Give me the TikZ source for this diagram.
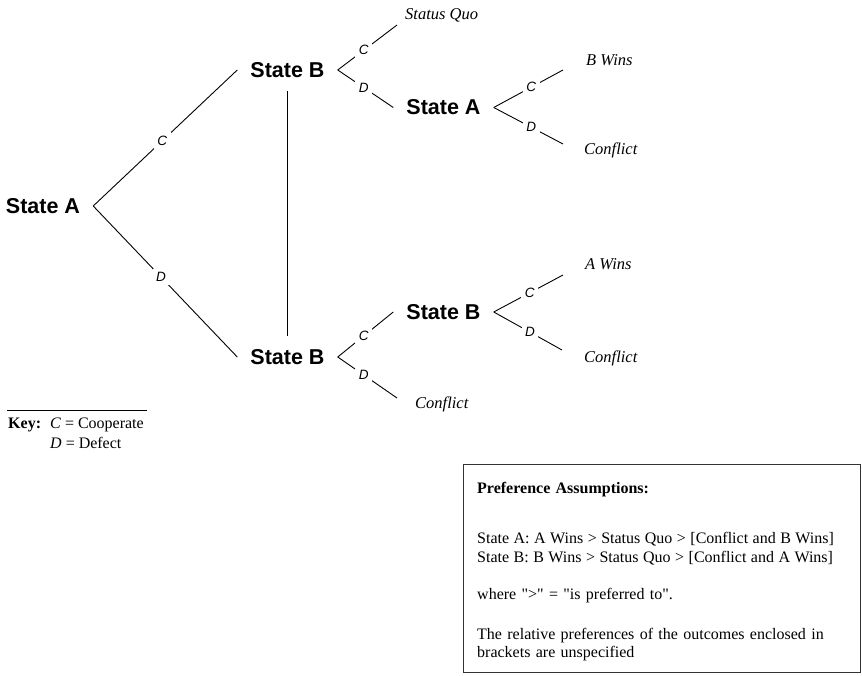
\documentclass[tikz,border=0pt]{standalone}
\usepackage{fontspec}
\setmainfont{Liberation Serif}
\setsansfont{Liberation Sans}
\newfontfamily\prefont{Liberation Serif}[Ligatures=TeXOff]
\tikzset{
  state/.style={font=\sffamily\bfseries\fontsize{21.5}{25}\selectfont, inner sep=13pt},
  outcome/.style={font=\itshape\fontsize{16.5}{20}\selectfont, inner sep=0pt, anchor=base west},
  keytext/.style={font=\fontsize{16}{20}\selectfont, inner sep=0pt, anchor=base west},
  act/.style={font=\sffamily\itshape\fontsize{13.5}{15}\selectfont, fill=white, inner sep=3.5pt},
  branch/.style={line width=0.9pt},
  prefbox/.style={draw=black!80, line width=0.8pt, minimum width=397pt, minimum height=208pt, inner sep=0pt},
  preftext/.style={inner sep=0pt, text width=369pt, align=left, font=\prefont\fontsize{16}{18}\selectfont},
}
\begin{document}
\begin{tikzpicture}[x=1pt,y=-1pt]
    \useasboundingbox (0,0) rectangle (862,676);
    % decision nodes
    \node[state] (A0) at (43,206) {State A};
    \node[state] (B1) at (287.5,70) {State B};
    \node[state] (B2) at (287.5,357) {State B};
    \node[state] (A1) at (443.5,107.5) {State A};
    \node[state] (B3) at (443.5,312) {State B};
    % outcomes
    \node[outcome] (sq) at (405,20) {Status Quo};
    \node[outcome] (bw) at (586,66) {B Wins};
    \node[outcome] (cf1) at (584,155) {Conflict};
    \node[outcome] (aw) at (585,270) {A Wins};
    \node[outcome] (cf2) at (584,362) {Conflict};
    \node[outcome] (cf3) at (415,408) {Conflict};
    % free ends of the branches
    \coordinate (sqEnd) at (397,25);
    \coordinate (bwEnd) at (563,70);
    \coordinate (cf1End) at (563,144);
    \coordinate (awEnd) at (563,275);
    \coordinate (cf2End) at (562,350);
    \coordinate (cf3End) at (397,398);
    % branches
    \path [branch](A0.east) edge node[act,pos=0.48]{C} (B1.west);
    \path [branch](A0.east) edge node[act,pos=0.47]{D} (B2.west);
    \path [branch](B1.south) edge (B2.north);
    \path [branch](B1.east) edge node[act,pos=0.44]{C} (sqEnd);
    \path [branch](B1.east) edge node[act,pos=0.47]{D} (A1.west);
    \path [branch](A1.east) edge node[act,pos=0.54]{C} (bwEnd);
    \path [branch](A1.east) edge node[act,pos=0.54]{D} (cf1End);
    \path [branch](B2.east) edge node[act,pos=0.47]{C} (B3.west);
    \path [branch](B2.east) edge node[act,pos=0.44]{D} (cf3End);
    \path [branch](B3.east) edge node[act,pos=0.52]{C} (awEnd);
    \path [branch](B3.east) edge node[act,pos=0.53]{D} (cf2End);
    % key
    \draw [line width=0.9pt] (7,410) -- (147,410);
    \node[keytext] (key) at (8,428) {\textbf{Key:}};
    \node[keytext] (keyC) at (50,428) {\textit{C} = Cooperate};
    \node[keytext] (keyD) at (50,448) {\textit{D} = Defect};
    % preference box
    \node[prefbox, anchor=north west] (pref) at (463,464) {};
    \node[preftext, anchor=north west] (prefText) at (477,482) {\textbf{Preference Assumptions:}\\[32pt]
      {\spaceskip=0.28em State A: A Wins > Status Quo > [Conflict and B Wins]}\\[1.5pt]
      {\spaceskip=0.28em State B: B Wins > Status Quo > [Conflict and A Wins]}\\[19pt]
      where ">" = "is preferred to".\\[22pt]
      The relative preferences of the outcomes enclosed in\\
      brackets are unspecified};
\end{tikzpicture}
\end{document}
